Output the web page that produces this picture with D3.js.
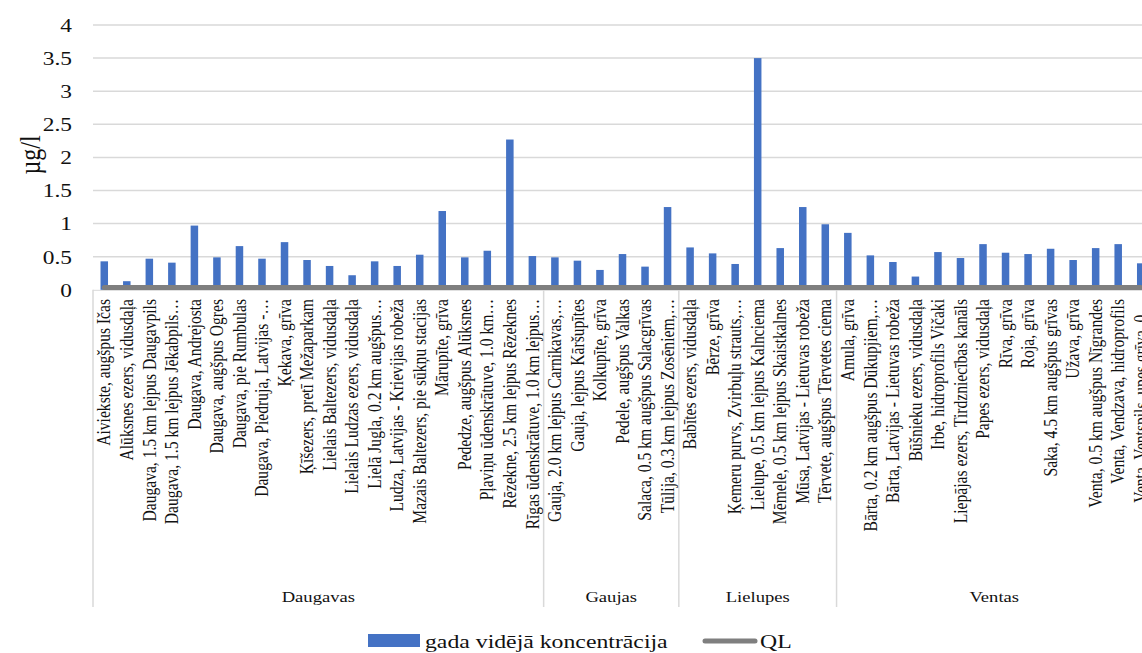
<!DOCTYPE html>
<html>
<head>
<meta charset="utf-8">
<script src="https://cdn.jsdelivr.net/npm/d3@7"></script>
<style>
  html, body { margin: 0; padding: 0; background: #ffffff; }
  svg { display: block; }
  text { font-family: "Liberation Serif", "Times New Roman", serif; fill: #111111; }
</style>
</head>
<body>
<svg id="chart" width="1142" height="653"></svg>
<script>
// ---------------- data ----------------
const categories = [
  "Aiviekste, augšpus Ičas",
  "Alūksnes ezers, vidusdaļa",
  "Daugava, 1.5 km lejpus Daugavpils",
  "Daugava, 1.5 km lejpus Jēkabpils…",
  "Daugava, Andrejosta",
  "Daugava, augšpus Ogres",
  "Daugava, pie Rumbulas",
  "Daugava, Piedruja, Latvijas -…",
  "Ķekava, grīva",
  "Ķīšezers, pretī Mežaparkam",
  "Lielais Baltezers, vidusdaļa",
  "Lielais Ludzas ezers, vidusdaļa",
  "Lielā Jugla, 0.2 km augšpus…",
  "Ludza, Latvijas - Krievijas robeža",
  "Mazais Baltezers, pie sūkņu stacijas",
  "Mārupīte, grīva",
  "Pededze, augšpus Alūksnes",
  "Pļaviņu ūdenskrātuve, 1.0 km…",
  "Rēzekne, 2.5 km lejpus Rēzeknes",
  "Rīgas ūdenskrātuve, 1.0 km lejpus…",
  "Gauja, 2.0 km lejpus Carnikavas,…",
  "Gauja, lejpus Kāršupītes",
  "Kolkupīte, grīva",
  "Pedele, augšpus Valkas",
  "Salaca, 0.5 km augšpus Salacgrīvas",
  "Tūlija, 0.3 km lejpus Zosēniem,…",
  "Babītes ezers, vidusdaļa",
  "Bērze, grīva",
  "Ķemeru purvs, Zvirbuļu strauts,…",
  "Lielupe, 0.5 km lejpus Kalnciema",
  "Mēmele, 0.5 km lejpus Skaistkalnes",
  "Mūsa, Latvijas - Lietuvas robeža",
  "Tērvete, augšpus Tērvetes ciema",
  "Amula, grīva",
  "Bārta, 0.2 km augšpus Dūkupjiem,…",
  "Bārta, Latvijas - Lietuvas robeža",
  "Būšnieku ezers, vidusdaļa",
  "Irbe, hidroprofils Vičaki",
  "Liepājas ezers, Tirdzniecības kanāls",
  "Papes ezers, vidusdaļa",
  "Rīva, grīva",
  "Roja, grīva",
  "Saka, 4.5 km augšpus grīvas",
  "Užava, grīva",
  "Venta, 0.5 km augšpus Nīgrandes",
  "Venta, Vendzava, hidroprofils",
  "Venta, Ventspils, upes grīva, 0…"
];

const values = [
  0.43, 0.13, 0.47, 0.41, 0.97, 0.49, 0.66, 0.47, 0.72, 0.45,
  0.36, 0.22, 0.43, 0.36, 0.53, 1.19, 0.49, 0.59, 2.27, 0.51,
  0.49, 0.44, 0.30, 0.54, 0.35, 1.25, 0.64, 0.55, 0.39, 3.50,
  0.63, 1.25, 0.99, 0.86, 0.52, 0.42, 0.20, 0.57, 0.48, 0.69,
  0.56, 0.54, 0.62, 0.45, 0.63, 0.69, 0.40
];

const groupNames = ["Daugavas", "Gaujas", "Lielupes", "Ventas"];
const groupSizes = [20, 6, 7, 14];

const qlValue = 0.035;

const yTicks = [0, 0.5, 1, 1.5, 2, 2.5, 3, 3.5, 4];
const yTitle = "µg/l";
const legendLabels = ["gada vidējā koncentrācija", "QL"];

// ---------------- layout ----------------
const STRETCH = 1.2;           // the reference is horizontally stretched
const plotLeft = 93, plotRight = 1152, plotTop = 25, plotBottom = 289.8;
const barColor = "#4472C4", qlColor = "#7F7F7F", gridColor = "#D9D9D9";

const svg = d3.select("#chart");

const x = d3.scaleBand()
  .domain(d3.range(categories.length))
  .range([plotLeft, plotRight])
  .paddingInner(0).paddingOuter(0);

const y = d3.scaleLinear().domain([0, 4]).range([plotBottom, plotTop]);

// gridlines
svg.append("g").selectAll("line").data(yTicks.filter(d => d > 0)).join("line")
  .attr("x1", plotLeft).attr("x2", plotRight)
  .attr("y1", d => y(d)).attr("y2", d => y(d))
  .attr("stroke", gridColor).attr("stroke-width", 1.5);

// y tick labels
svg.append("g").selectAll("text").data(yTicks).join("text")
  .attr("transform", d => `translate(72,${y(d)}) scale(${STRETCH},1)`)
  .attr("text-anchor", "end").attr("dy", "0.35em")
  .attr("font-size", 19.5)
  .text(d => d3.format("")(d));

// y title
svg.append("text")
  .attr("transform", `translate(30,155) scale(${STRETCH},1) rotate(-90)`)
  .attr("text-anchor", "middle").attr("dy", "0.35em")
  .attr("font-size", 24)
  .text(yTitle);

// category axis line
svg.append("line")
  .attr("x1", plotLeft).attr("x2", plotRight)
  .attr("y1", plotBottom + 0.5).attr("y2", plotBottom + 0.5)
  .attr("stroke", gridColor).attr("stroke-width", 1);

// group separators
const bounds = [0];
groupSizes.forEach((s, i) => bounds.push(bounds[i] + s));
svg.append("g").selectAll("line").data(bounds.slice(0, -1)).join("line")
  .attr("x1", d => x(d)).attr("x2", d => x(d))
  .attr("y1", plotBottom).attr("y2", 607)
  .attr("stroke", gridColor).attr("stroke-width", 1.5);

// bars
const barW = x.bandwidth() / 3;
svg.append("g").selectAll("rect").data(values).join("rect")
  .attr("x", (d, i) => x(i) + x.bandwidth() / 2 - barW / 2)
  .attr("width", barW)
  .attr("y", d => y(d))
  .attr("height", d => y(0) - y(d))
  .attr("fill", barColor);

// QL line
const cx = i => x(i) + x.bandwidth() / 2;
svg.append("line")
  .attr("x1", cx(0)).attr("x2", cx(categories.length - 1))
  .attr("y1", y(qlValue)).attr("y2", y(qlValue))
  .attr("stroke", qlColor).attr("stroke-width", 5)
  .attr("stroke-linecap", "round");

// category labels
svg.append("g").selectAll("text").data(categories).join("text")
  .attr("transform", (d, i) => `translate(${cx(i)},299) scale(${STRETCH},1) rotate(-90)`)
  .attr("text-anchor", "end").attr("dy", "0.33em")
  .attr("font-size", 15.6)
  .text(d => d);

// group labels
svg.append("g").selectAll("text").data(groupNames).join("text")
  .attr("transform", (d, i) => {
    const mid = (x(bounds[i]) + (bounds[i + 1] < categories.length ? x(bounds[i + 1]) : plotRight)) / 2;
    return `translate(${mid},602) scale(${STRETCH},1)`;
  })
  .attr("text-anchor", "middle")
  .attr("font-size", 15.5)
  .text(d => d);

// legend
const lg = svg.append("g");
lg.append("rect").attr("x", 368).attr("y", 634).attr("width", 52).attr("height", 13).attr("fill", barColor);
lg.append("text")
  .attr("transform", `translate(425,641) scale(${STRETCH},1)`)
  .attr("dy", "0.35em").attr("font-size", 19.8)
  .text(legendLabels[0]);
lg.append("line").attr("x1", 705).attr("x2", 755).attr("y1", 641).attr("y2", 641)
  .attr("stroke", qlColor).attr("stroke-width", 5).attr("stroke-linecap", "round");
lg.append("text")
  .attr("transform", `translate(760,641) scale(${STRETCH},1)`)
  .attr("dy", "0.35em").attr("font-size", 19.8)
  .text(legendLabels[1]);
</script>
</body>
</html>
